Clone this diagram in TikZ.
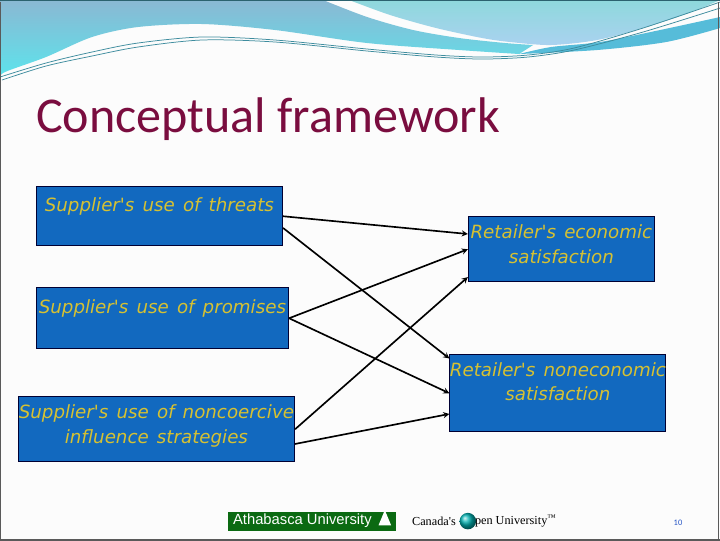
\documentclass[tikz,border=0pt]{standalone}
\usepackage{fontspec}
\setmainfont{Carlito}
\newfontfamily\boxfont[WordSpace=1.4]{DejaVu Sans}
\newfontfamily\logofont{Liberation Sans}
\newfontfamily\seriffont{Liberation Serif}
\usepackage{xcolor}
\usetikzlibrary{shapes.geometric, arrows}
\definecolor{boxblue}{HTML}{1269BF}
\definecolor{boxtext}{HTML}{D6C132}
\definecolor{titlered}{HTML}{7A0D3F}
\definecolor{logogreen}{HTML}{0B6A12}
\definecolor{wavedark}{HTML}{3E8C9E}
\definecolor{frameline}{HTML}{5A5A5A}
\definecolor{skytop}{HTML}{8AB8D3}
\definecolor{skybottom}{HTML}{5CE4EC}
\definecolor{tealtop}{HTML}{8ED8DC}
\definecolor{tealbottom}{HTML}{AAD2F0}
\definecolor{waveband}{HTML}{56BCD9}
\tikzstyle{block} = [rectangle, minimum height=2cm, inner sep=0pt, align=center, text centered, draw=black!80!blue, line width=0.035cm, fill=boxblue, text=boxtext, font=\boxfont\itshape\fontsize{17.3}{22.8}\selectfont]
\tikzstyle{arrow} = [line width=0.055cm,->,>=stealth]
\tikzstyle{waveline} = [wavedark, line width=0.025cm]

\begin{document}
\begin{tikzpicture}[node distance=0.3cm]
\useasboundingbox (0,0) rectangle (24,-18);
\fill[white!99!black] (0,0) rectangle (24,-18);

% Testata con le onde
\begin{scope}[x=0.033333cm, y=-0.033333cm]
\shade[top color=skytop, bottom color=skybottom]
  (0,0) -- plot[smooth] coordinates {(323,0) (367,17) (413,30) (459,38) (505,43) (533,45)}
  -- plot[smooth] coordinates {(519,54) (459,50) (367,43) (275,30) (202,24) (138,27) (92,37) (46,57) (5,72) (0,78)} -- cycle;
\shade[top color=tealtop, bottom color=tealbottom]
  (720,0) -- plot[smooth] coordinates {(720,0) (689,13) (643,28) (597,40) (551,45) (510,42) (482,38) (436,28) (390,15) (349,0)} -- cycle;
\fill[waveband]
  plot[smooth] coordinates {(519,54) (597,50) (666,42) (720,28)} -- plot[smooth] coordinates {(720,17) (660,30) (600,42) (551,47) (519,54)} -- cycle;
\draw[waveline] plot[smooth] coordinates {(0,77) (46,63) (92,52) (138,43) (202,37) (275,40) (367,49) (436,55) (482,57) (528,55) (574,48) (643,28) (720,2)};
\draw[waveline] plot[smooth] coordinates {(2,80) (46,66) (92,56) (138,47) (202,40) (275,42) (367,51) (436,57) (482,59) (528,57) (574,50) (643,32) (720,8)};
\end{scope}

% Cornice
\draw[frameline, line width=0.05cm] (0,-0.05) -- (0,-18) -- (24,-18);
\draw[frameline, line width=0.05cm] (23.95,-18) -- (23.95,-0.05);
\draw[wavedark!70!black, line width=0.06cm] (0,0) -- (24,0);

% Titolo
\node (title) [anchor=base west, inner sep=0pt, text=titlered, font=\fontsize{47.5}{47.5}\selectfont] at (1.2,-4.4) {Conceptual framework};

% Nodi principali
\node (threats) [block, minimum width=8.21cm, minimum height=1.98cm] at (5.313,-7.208) {Supplier's use of threats\\\mbox{}};
\node (promises) [block, below of=threats, minimum width=8.41cm, minimum height=2.02cm, xshift=0.1cm, yshift=-3.1cm] {Supplier's use of promises\\\mbox{}};
\node (noncoercive) [block, below of=promises, minimum width=9.21cm, minimum height=2.18cm, xshift=-0.2cm, yshift=-3.4cm] {Supplier's use of noncoercive\\influence strategies\\[-13pt]\mbox{}};
\node (economic) [block, right of=threats, minimum width=6.2cm, minimum height=2.18cm, xshift=13.1cm, yshift=-1.1cm] {Retailer's economic\\satisfaction\\[-13pt]\mbox{}};
\node (noneconomic) [block, below of=economic, minimum width=7.2cm, minimum height=2.58cm, xshift=-0.117cm, yshift=-4.5cm] {Retailer's noneconomic\\satisfaction\\\mbox{}};

% Frecce
\draw [arrow] (threats.east) -- ([yshift=0.508cm]economic.west);
\draw [arrow] ([yshift=-0.39cm]threats.east) -- ([yshift=-0.15cm]noneconomic.north west);
\draw [arrow] (promises.east) -- (economic.west);
\draw [arrow] (promises.east) -- (noneconomic.west);
\draw [arrow] (noncoercive.east) -- ([yshift=0.18cm]economic.south west);
\draw [arrow] ([yshift=-0.49cm]noncoercive.east) -- ([yshift=-0.69cm]noneconomic.west);

% Loghi in basso
\node (aulogo) [rectangle, fill=logogreen, minimum width=5.6cm, minimum height=0.63cm, inner sep=0pt] at (10.4,-17.37) {};
\node (autext) [anchor=west, inner sep=0pt, text=white, font=\logofont\fontsize{14}{14}\selectfont] at ([xshift=0.17cm]aulogo.west) {Athabasca University};
\node (aumark) [anchor=east, isosceles triangle, shape border rotate=90, fill=white, minimum width=0.42cm, minimum height=0.42cm, inner sep=0pt] at ([xshift=-0.22cm]aulogo.east) {};
\node (canada) [anchor=west, inner sep=0pt, text=black, font=\seriffont\fontsize{11.6}{11.6}\selectfont] at (13.73,-17.37) {Canada's};
\node (globe) [circle, right of=canada, xshift=0.83cm, minimum size=0.55cm, inner sep=0pt, shade, ball color=teal!60!cyan] {};
\node (openu) [anchor=west, inner sep=0pt, text=black, font=\seriffont\fontsize{11.6}{11.6}\selectfont] at ([xshift=-0.05cm]globe.east) {pen University\textsuperscript{™}};
\node (pagenum) [inner sep=0pt, text=wavedark!60!blue, font=\fontsize{8}{8}\selectfont] at (22.6,-17.43) {10};
\end{tikzpicture}
\end{document}
